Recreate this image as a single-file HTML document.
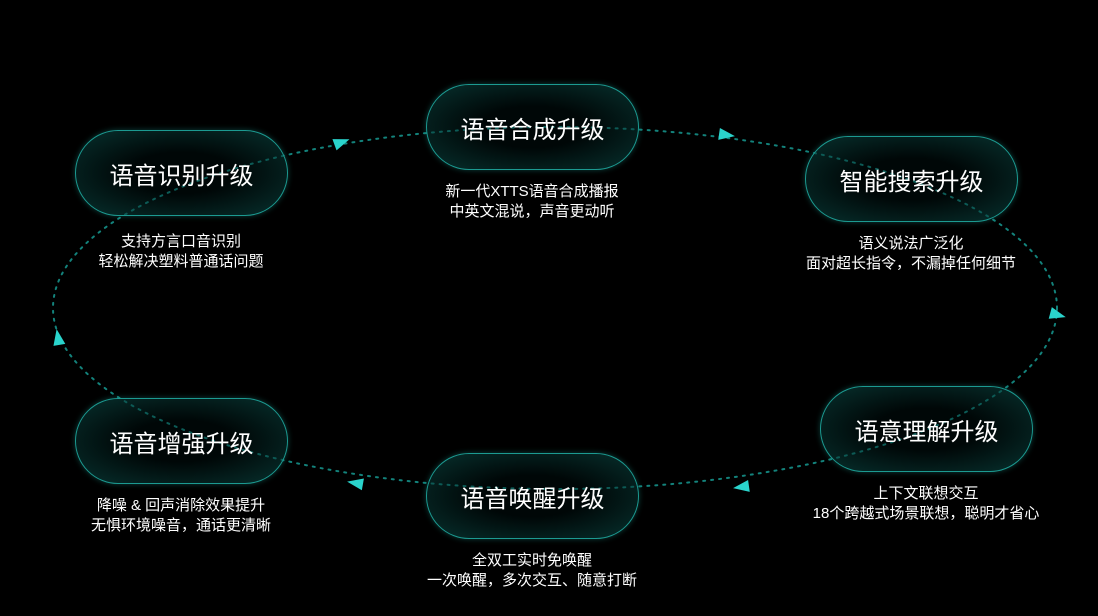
<!DOCTYPE html>
<html><head><meta charset="utf-8"><style>
body{margin:0;width:1098px;height:616px;background:#000;overflow:hidden;position:relative;font-family:"Liberation Sans","Noto Sans CJK SC",sans-serif;color:#fff}
.n{position:absolute;width:213px;height:86px;border:1.5px solid #1c9a91;border-radius:43px;box-sizing:border-box;background:radial-gradient(ellipse at center,rgba(0,20,20,0.35) 35%,rgba(10,70,66,0.7) 100%);display:flex;align-items:center;justify-content:center;font-size:24px;box-shadow:0 0 6px rgba(30,160,150,0.4)}
.d{position:absolute;width:300px;text-align:center;font-size:15px;line-height:20px}
svg{position:absolute;left:0;top:0}
</style></head><body>
<svg width="1098" height="616">
<ellipse cx="555" cy="308" rx="502" ry="181" fill="none" stroke="#13827b" stroke-width="2" stroke-dasharray="2 6" stroke-linecap="round"/>
<g fill="#2ad4cc">
<polygon points="-8,-6 8,0 -8,6" transform="translate(342,142) rotate(-20)"/>
<polygon points="-8,-6 8,0 -8,6" transform="translate(727,135) rotate(8)"/>
<polygon points="-8,-6 8,0 -8,6" transform="translate(1058,315) rotate(15)"/>
<polygon points="-8,-6 8,0 -8,6" transform="translate(741,487) rotate(172)"/>
<polygon points="-8,-6 8,0 -8,6" transform="translate(355,483) rotate(190)"/>
<polygon points="-8,-6 8,0 -8,6" transform="translate(58,337) rotate(-100)"/>
</g></svg>
<div class="n" style="left:426px;top:84px">语音合成升级</div>
<div class="d" style="left:382px;top:182px">新一代XTTS语音合成播报<br>中英文混说，声音更动听</div>
<div class="n" style="left:75px;top:130px">语音识别升级</div>
<div class="d" style="left:31px;top:232px">支持方言口音识别<br>轻松解决塑料普通话问题</div>
<div class="n" style="left:805px;top:136px">智能搜索升级</div>
<div class="d" style="left:761px;top:234px">语义说法广泛化<br>面对超长指令，不漏掉任何细节</div>
<div class="n" style="left:820px;top:386px">语意理解升级</div>
<div class="d" style="left:776px;top:484px">上下文联想交互<br>18个跨越式场景联想，聪明才省心</div>
<div class="n" style="left:426px;top:453px">语音唤醒升级</div>
<div class="d" style="left:382px;top:551px">全双工实时免唤醒<br>一次唤醒，多次交互、随意打断</div>
<div class="n" style="left:75px;top:398px">语音增强升级</div>
<div class="d" style="left:31px;top:496px">降噪 &amp; 回声消除效果提升<br>无惧环境噪音，通话更清晰</div>
</body></html>
